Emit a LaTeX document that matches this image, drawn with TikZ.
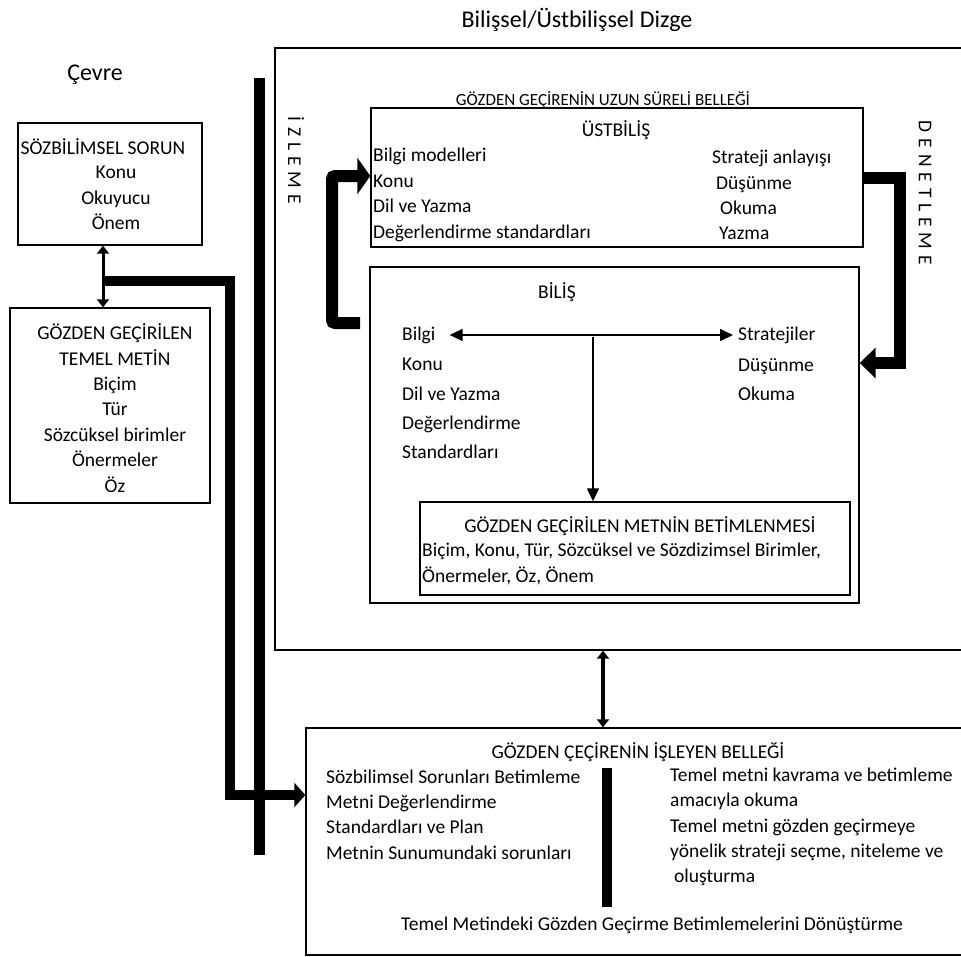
\documentclass[tikz,border=0pt]{standalone}
\usepackage{fontspec}
\setmainfont{Carlito}
\usetikzlibrary{arrows.meta}

\def\satir{25.4}

\begin{document}
\begin{tikzpicture}[x=1pt,y=-1pt]
    \tikzstyle{kutu}=[draw=black,line width=1.4pt,inner sep=0pt]
    \tikzstyle{yazi}=[inner sep=0pt,font=\fontsize{19.5}{\satir}\selectfont]
    \tikzstyle{baslik}=[inner sep=0pt,font=\fontsize{24}{28}\selectfont]
    \tikzstyle{sutun}=[yazi,align=left,anchor=west,font=\fontsize{19.5}{29.25}\selectfont]
    \tikzstyle{dikey}=[inner sep=0pt,rotate=-90,
        font={\fontsize{19.5}{24}\selectfont\addfontfeature{LetterSpace=7.5}}]
    \tikzstyle{kalin}=[line width=11pt]
    \tikzstyle{cift}=[line width=3pt,{Triangle[length=8pt,width=12pt]}-{Triangle[length=8pt,width=12pt]}]
    \tikzstyle{ince}=[line width=1.5pt]
    \useasboundingbox (0,0) rectangle (961,956);

    % Titles
    \node[baslik] (dizge) at (577,20) {Bilişsel/Üstbilişsel Dizge};
    \node[baslik] (cevre) at (95,75) {Çevre};

    % Environment boxes
    \node[kutu,minimum width=184pt,minimum height=122pt] (sorun) at (110,184) {};
    \node[yazi] (sorunbas) at (103,147) {SÖZBİLİMSEL SORUN};
    \node[yazi,align=center] (sorunic) at (116,198) {Konu\\Okuyucu\\Önem};

    \node[kutu,minimum width=200pt,minimum height=195pt] (metin) at (110,405.5) {};
    \node[yazi,align=center] (metinic) at (115,408)
        {GÖZDEN GEÇİRİLEN\\TEMEL METİN\\Biçim\\Tür\\Sözcüksel birimler\\Önermeler\\Öz};

    % Long term memory
    \node[kutu,minimum width=700pt,minimum height=602pt] (uzun) at (625,349) {};
    \node[yazi,font=\fontsize{17}{20}\selectfont] (uzunbas) at (603,100) {GÖZDEN GEÇİRENİN UZUN SÜRELİ BELLEĞİ};
    \node[dikey] (izleme) at (296,160) {İ Z L E M E};
    \node[dikey] (denetleme) at (925,193) {D E N E T L E M E};

    \node[kutu,minimum width=492pt,minimum height=139pt] (ustbilis) at (617,177.5) {};
    \node[yazi] (ustbas) at (616,130) {ÜSTBİLİŞ};
    \node[yazi,align=left,anchor=west] (ustsol) at (373,195)
        {Bilgi modelleri\\Konu\\Dil ve Yazma\\Değerlendirme standardları};
    \node[yazi,align=left,anchor=west] (ustsag) at (712,195)
        {Strateji anlayışı\\\hspace*{4pt}Düşünme\\\hspace*{8pt}Okuma\\\hspace*{7pt}Yazma};

    \node[kutu,minimum width=489pt,minimum height=336pt] (bilis) at (614.5,435) {};
    \node[yazi] (bilisbas) at (557,292) {BİLİŞ};
    \node[yazi,anchor=west] (bilgi) at (402,335) {Bilgi};
    \node[sutun] (bilgialt) at (402,408.5) {Konu\\Dil ve Yazma\\Değerlendirme\\Standardları};
    \node[yazi,anchor=west] (strateji) at (738,335) {Stratejiler};
    \node[sutun] (stratalt) at (738,379.5) {Düşünme\\Okuma};

    \node[kutu,minimum width=430pt,minimum height=93pt] (betim) at (635,548.5) {};
    \node[yazi] (betimbas) at (640,526) {GÖZDEN GEÇİRİLEN METNİN BETİMLENMESİ};
    \node[yazi,align=left,anchor=west] (betimic) at (422,564)
        {Biçim, Konu, Tür, Sözcüksel ve Sözdizimsel Birimler,\\Önermeler, Öz, Önem};

    % Working memory
    \node[kutu,minimum width=668pt,minimum height=227pt] (isleyen) at (640,841.5) {};
    \node[yazi] (islbas) at (638,752) {GÖZDEN ÇEÇİRENİN İŞLEYEN BELLEĞİ};
    \node[yazi,align=left,anchor=west] (islsol) at (326,814.5)
        {Sözbilimsel Sorunları Betimleme\\Metni Değerlendirme\\Standardları ve Plan\\Metnin Sunumundaki sorunları};
    \node[yazi,align=left,anchor=west] (islsag) at (670,827)
        {Temel metni kavrama ve betimleme\\amacıyla okuma\\Temel metni gözden geçirmeye\\yönelik strateji seçme, niteleme ve\\\hspace*{4pt}oluşturma};
    \node[yazi] (islalt) at (652,925) {Temel Metindeki Gözden Geçirme Betimlemelerini Dönüştürme};

    % Bars
    \coordinate (bart) at (607,768);
    \coordinate (barb) at (607,907);
    \draw[line width=10pt] (bart) -- (barb);
    \coordinate (dikust) at (259.5,78);
    \coordinate (dikalt) at (259.5,855);
    \draw[kalin] (dikust) -- (dikalt);

    % Monitoring and control
    \coordinate (izbas) at (360,323);
    \coordinate (izkose) at (332,176);
    \draw[line width=12pt,rounded corners=3pt,-{Triangle[length=13pt,width=36pt]}]
        (izbas) -| (izkose) -- (izkose -| ustbilis.west);
    \coordinate (dnkose) at (900,363);
    \draw[line width=12pt,-{Triangle[length=16pt,width=30pt]}]
        (ustbilis.east) -| (dnkose) -- (dnkose -| bilis.east);

    % Text to working memory
    \coordinate (mtbas) at (103,281);
    \coordinate (mtkose) at (230,795);
    \draw[line width=10pt,-{Triangle[length=11pt,width=24pt]}]
        (mtbas) -| (mtkose) -- (mtkose -| isleyen.west);

    % Double arrows
    \draw[cift] ([xshift=-7pt]sorun.south) -- ([xshift=-7pt]metin.north);
    \coordinate (orta) at (603,0);
    \draw[cift,line width=4pt] (uzun.south -| orta) -- (isleyen.north -| orta);

    % Inside cognition
    \draw[ince,{Triangle[length=13pt,width=12pt]}-{Triangle[length=13pt,width=12pt]},
        shorten <=14pt,shorten >=5pt] (bilgi) -- (strateji);
    \coordinate (ayrim) at (593,337);
    \draw[ince,-{Triangle[length=13pt,width=12pt]}] (ayrim) -- (ayrim |- betim.north);
\end{tikzpicture}
\end{document}
